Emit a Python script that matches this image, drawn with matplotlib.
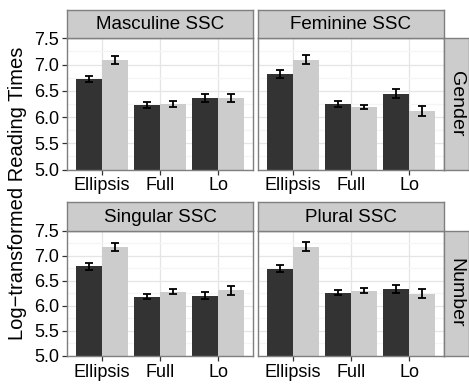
import numpy as np
import matplotlib
matplotlib.use('Agg')
import matplotlib.pyplot as plt

plt.rcParams['font.family'] = ['Liberation Sans', 'DejaVu Sans']

conditions = ['Ellipsis', 'Full', 'Lo']
panel_titles = ['Masculine SSC', 'Feminine SSC', 'Singular SSC', 'Plural SSC']
row_titles = ['Gender', 'Number']
y_ticks = [5.0, 5.5, 6.0, 6.5, 7.0, 7.5]
y_minor = [5.25, 5.75, 6.25, 6.75, 7.25]

# dark bars / light bars, and their error half-widths, one list per panel
masc_dark = [6.72, 6.23, 6.36]
masc_light = [7.09, 6.25, 6.36]
masc_dark_err = [0.06, 0.05, 0.08]
masc_light_err = [0.08, 0.05, 0.07]

fem_dark = [6.82, 6.25, 6.44]
fem_light = [7.09, 6.19, 6.11]
fem_dark_err = [0.07, 0.06, 0.085]
fem_light_err = [0.085, 0.045, 0.095]

sing_dark = [6.79, 6.18, 6.20]
sing_light = [7.17, 6.28, 6.31]
sing_dark_err = [0.07, 0.05, 0.07]
sing_light_err = [0.08, 0.05, 0.09]

plur_dark = [6.74, 6.26, 6.34]
plur_light = [7.18, 6.30, 6.24]
plur_dark_err = [0.07, 0.05, 0.08]
plur_light_err = [0.09, 0.05, 0.09]

panels = [
    (masc_dark, masc_light, masc_dark_err, masc_light_err),
    (fem_dark, fem_light, fem_dark_err, fem_light_err),
    (sing_dark, sing_light, sing_dark_err, sing_light_err),
    (plur_dark, plur_light, plur_dark_err, plur_light_err),
]

W, H = 469, 386
fig = plt.figure(figsize=(W / 100, H / 100), dpi=100)

def box(x0, y0, x1, y1):
    # pixel box (top-left origin) -> figure fraction
    return [x0 / W, 1 - y1 / H, (x1 - x0) / W, (y1 - y0) / H]

col_x = [(67, 253), (258, 444)]
row_y = [(38.3, 169.5), (230.5, 356)]
strip_h = 28.5
border = '#7f7f7f'

x = np.arange(1, 4)
bw = 0.45

for i, (dark, light, derr, lerr) in enumerate(panels):
    r, c = divmod(i, 2)
    x0, x1 = col_x[c]
    y0, y1 = row_y[r]
    ax = fig.add_axes(box(x0, y0, x1, y1))
    ax.set_axisbelow(True)
    ax.bar(x - bw / 2, dark, bw, color='#333333', zorder=2)
    ax.bar(x + bw / 2, light, bw, color='#cccccc', zorder=2)
    ax.errorbar(x - bw / 2, dark, yerr=derr, fmt='none', ecolor='black',
                elinewidth=1.3, capsize=3, capthick=1.3, zorder=3)
    ax.errorbar(x + bw / 2, light, yerr=lerr, fmt='none', ecolor='black',
                elinewidth=1.3, capsize=3, capthick=1.3, zorder=3)
    ax.set_xlim(0.4, 3.6)
    ax.set_ylim(5.0, 7.5)
    ax.set_xticks(x)
    ax.set_xticklabels(conditions)
    ax.set_yticks(y_ticks)
    ax.set_yticks(y_minor, minor=True)
    ax.grid(which='major', color='#e5e5e5', linewidth=0.9)
    ax.grid(which='minor', axis='y', color='#f5f5f5', linewidth=0.9)
    ax.tick_params(which='minor', length=0)
    ax.tick_params(which='major', length=3.5, width=0.9, color='#333333',
                   labelsize=13, labelcolor='black', pad=2)
    if c == 0:
        ax.set_yticklabels(['%.1f' % v for v in y_ticks])
    else:
        ax.tick_params(axis='y', length=0, labelleft=False)
    for s in ax.spines.values():
        s.set_color(border)
        s.set_linewidth(1.0)

    st = fig.add_axes(box(x0, y0 - strip_h, x1, y0))
    st.set_facecolor('#cccccc')
    st.set_xticks([])
    st.set_yticks([])
    for s in st.spines.values():
        s.set_color(border)
        s.set_linewidth(1.0)
    st.text(0.5, 0.47, panel_titles[i], ha='center', va='center',
            fontsize=13.5, transform=st.transAxes)

    if c == 1:
        rs = fig.add_axes(box(444, y0, 468.5, y1))
        rs.set_facecolor('#cccccc')
        rs.set_xticks([])
        rs.set_yticks([])
        for s in rs.spines.values():
            s.set_color(border)
            s.set_linewidth(1.0)
        rs.text(0.5, 0.5, row_titles[r], ha='center', va='center',
                rotation=-90, fontsize=14, transform=rs.transAxes)

fig.text(18 / W, 0.5, 'Log\u2212transformed Reading Times', rotation=90,
         ha='center', va='center', fontsize=14.5)

fig.savefig('out.png', dpi=100)
